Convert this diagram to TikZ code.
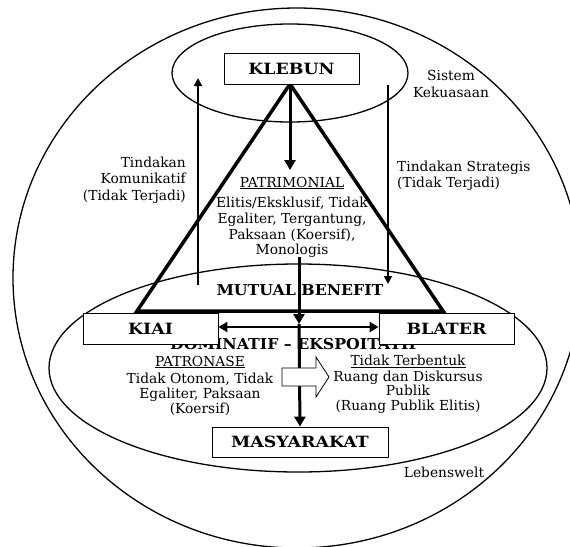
\documentclass[tikz,border=0pt]{standalone}
\usepackage{fontspec}
\setmainfont{DejaVu Serif}
\newfontfamily\widebold[FakeStretch=1.12]{DejaVu Serif}
\newfontfamily\midbold[FakeStretch=1.05]{DejaVu Serif}
\usetikzlibrary{arrows.meta}
\begin{document}
\begin{tikzpicture}[x=1pt,y=-1pt,
  box/.style={draw,line width=0.8pt,fill=white,inner sep=0pt,font=\widebold\fontsize{15.5}{17}\selectfont\bfseries},
  lbl/.style={font=\fontsize{13.8}{16.5}\selectfont,inner sep=0pt},
  body/.style={font=\fontsize{13.8}{15.5}\selectfont,inner sep=0pt,align=center},
  blbl/.style={font=\midbold\fontsize{15}{17}\selectfont\bfseries,inner sep=0pt},
  ell/.style={line width=1.3pt},
  thick arrow/.style={line width=3pt,-{Triangle[length=10pt,width=11pt]}},
  thin arrow/.style={line width=1.8pt,-{Triangle[length=8pt,width=8pt]}}]
\useasboundingbox (0,0) rectangle (570,546);
% outer circle (clipped)
\begin{scope}
\clip (0,0) rectangle (570,546);
\draw[ell] (297,278) ellipse [x radius=284, y radius=270];
\end{scope}
% system of power ellipse
\draw[ell] (290,73) ellipse [x radius=118, y radius=49];
% lifeworld ellipse
\draw[ell] (298,368) ellipse [x radius=249, y radius=104];
% triangle
\coordinate (apex) at (290,84);
\coordinate (tl) at (137,311);
\coordinate (tr) at (443,311);
\draw[line width=3.5pt,line join=miter] (apex) -- (tl) -- (tr) -- cycle;
% texts
\node[blbl] (mutual) at (300,290) {MUTUAL BENEFIT};
\node[blbl] (domin) at (295,344.5) {DOMINATIF – EKSPOITATIF};
% arrows
\coordinate (a1) at (290,170);
\draw[thick arrow] (apex) -- (a1);
\coordinate (v1) at (299,257);
\coordinate (v2) at (299,324);
\draw[thick arrow] (v1) -- (v2);
% boxes
\node[box,minimum width=135pt,minimum height=31pt] (klebun) at (291.5,68.5) {KLEBUN};
\node[box,minimum width=135pt,minimum height=31pt] (kiai) at (150.5,328.5) {KIAI};
\node[box,minimum width=135pt,minimum height=31pt] (blater) at (446.5,328.5) {BLATER};
\node[box,minimum width=176pt,minimum height=30pt] (masy) at (300,442) {MASYARAKAT};
\draw[thick arrow] (v2) -- (masy.north);
\draw[line width=2.5pt,{Triangle[length=9pt,width=10pt]}-{Triangle[length=9pt,width=10pt]}] (kiai.east |- 0,327) -- (blater.west |- 0,327);
% side arrows
\coordinate (lb) at (198,285);
\coordinate (lt) at (198,78);
\draw[thin arrow] (lb) -- (lt);
\coordinate (rt) at (388,85);
\coordinate (rb) at (388,284);
\draw[thin arrow] (rt) -- (rb);
% block arrow
\draw[line width=0.8pt,fill=white] (282,368) -- (316,368) -- (316,357) -- (329,377) -- (316,397) -- (316,386) -- (282,386) -- cycle;
% labels
\node[lbl,align=center] (sistem) at (451,84) {Sistem\\Kekuasaan};
\node[lbl,align=left,anchor=west] (strat) at (397,176) {Tindakan Strategis\\(Tidak Terjadi)};
\node[lbl,align=right,anchor=east] (komun) at (186,180) {Tindakan\\Komunikatif\\(Tidak Terjadi)};
\node[lbl] (patrih) at (292,183) {\underline{PATRIMONIAL}};
\node[body,font=\fontsize{13.8}{15.8}\selectfont] (patri) at (292,227.5) {Elitis/Eksklusif, Tidak\\Egaliter, Tergantung,\\Paksaan (Koersif),\\Monologis};
\node[lbl] (patroh) at (200,362) {\underline{PATRONASE}};
\node[body,font=\fontsize{13.8}{14.8}\selectfont] (patro) at (200,394.5) {Tidak Otonom, Tidak\\Egaliter, Paksaan\\(Koersif)};
\node[lbl] (tidakh) at (408,361) {\underline{Tidak Terbentuk}};
\node[body,font=\fontsize{13.8}{14.3}\selectfont] (tidak) at (408,392) {Ruang dan Diskursus\\Publik\\(Ruang Publik Elitis)};
\node[lbl] (leben) at (444,472) {Lebenswelt};
\end{tikzpicture}
\end{document}
